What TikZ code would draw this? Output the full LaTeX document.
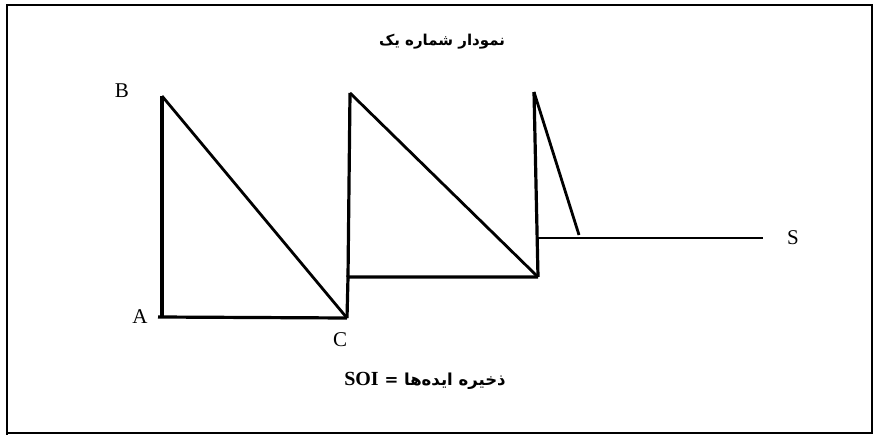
\documentclass[tikz,border=0pt]{standalone}
\usepackage{fontspec}
\setmainfont{Liberation Serif}
\newfontfamily\arabicfont[Script=Arabic]{DejaVu Sans}
\TeXXeTstate=1
\begin{document}
\begin{tikzpicture}[x=1pt,y=-1pt,
  thick line/.style={line width=3.2pt},
  slope line/.style={line width=2.8pt},
  frame line/.style={line width=2.2pt},
  pt label/.style={font=\fontsize{21}{21}\selectfont, inner sep=0pt},
  fa text/.style={inner sep=0pt}]
\useasboundingbox (0,0) rectangle (874,435);
\draw[frame line] (7,435) -- (7,5) -- (872,5) -- (872,433) -- (8,433);
% coordinates
\coordinate (a0) at (158,317);
\coordinate (b) at (162,96);
\coordinate (a1) at (162,317);
\coordinate (c) at (347,318);
\coordinate (c1) at (348,277);
\coordinate (p2) at (350,93);
\coordinate (d) at (538,277);
\coordinate (p3) at (534,92);
\coordinate (e) at (538,238);
\coordinate (f) at (579,235);
\coordinate (s) at (763,238);
% lines
\draw[thick line] (a0) -- (c);
\draw[thick line] (a1) -- (b);
\draw[slope line] (b) -- (c);
\draw[thick line] (c) -- (c1) -- (d);
\draw[thick line] (c1) -- (p2);
\draw[slope line] (p2) -- (d);
\draw[thick line] (d) -- (p3);
\draw[slope line] (p3) -- (f);
\draw[slope line] (e) -- (s);
% labels
\node[pt label] (A) at (140,317) {A};
\node[pt label] (B) at (122,91) {B};
\node[pt label] (C) at (340,340) {C};
\node[pt label] (S) at (793,238) {S};
\node[fa text] (title) at (442,42) {\arabicfont\bfseries\fontsize{15}{15}\selectfont\beginR نمودار شماره یک\endR};
\node[fa text] (soi) at (425,381) {\arabicfont\bfseries\fontsize{16.5}{16.5}\selectfont\beginR ذخیره ایده‌ها = \beginL{\rmfamily\bfseries\fontsize{20}{20}\selectfont SOI}\endL\endR};
\end{tikzpicture}
\end{document}
